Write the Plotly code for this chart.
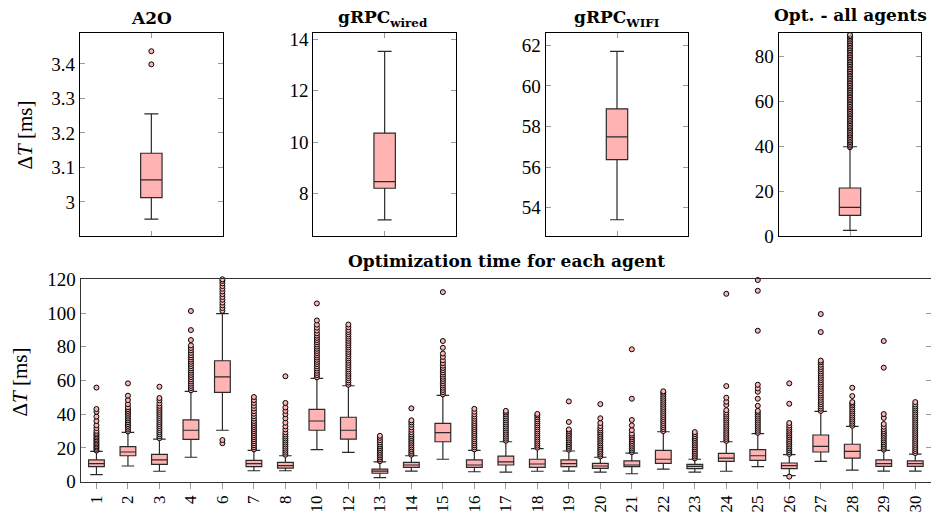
import plotly.graph_objects as go

# ---------------- data: top panels ----------------
top_titles = ["<b>A2O</b>", "<b>gRPC<sub>wired</sub></b>", "<b>gRPC<sub>WIFI</sub></b>", "<b>Opt. - all agents</b>"]
top_q1 = [3.0125, 8.21, 56.37, 9.24]
top_median = [3.064, 8.47, 57.49, 12.8]
top_q3 = [3.141, 10.35, 58.87, 21.4]
top_low = [2.95, 6.98, 53.41, 2.5]
top_high = [3.255, 13.53, 61.70, 39.8]

a2o_outliers = [3.399, 3.437]
wired_outliers = []
wifi_outliers = []
opt_outliers = [39.6, 40.3, 41.1, 41.9, 42.6, 43.4, 44.2, 45.0, 45.7, 46.5, 47.3, 48.1, 48.8, 49.6,
                50.4, 51.2, 51.9, 52.7, 53.5, 54.3, 55.0, 55.8, 56.6, 57.4, 58.1, 58.9, 59.7, 60.5,
                61.2, 62.0, 62.8, 63.6, 64.3, 65.1, 65.9, 66.7, 67.4, 68.2, 69.0, 69.8, 70.5, 71.3,
                72.1, 72.9, 73.6, 74.4, 75.2, 76.0, 76.7, 77.5, 78.3, 79.1, 79.8, 80.6, 81.4, 82.2,
                82.9, 83.7, 84.5, 85.3, 86.0, 86.8, 87.6, 88.4, 89.1, 89.7]

a2o_ticks = [3, 3.1, 3.2, 3.3, 3.4]
a2o_ticktext = ["3", "3.1", "3.2", "3.3", "3.4"]
wired_ticks = [8, 10, 12, 14]
wifi_ticks = [54, 56, 58, 60, 62]
opt_ticks = [0, 20, 40, 60, 80]

# ---------------- data: bottom panel ----------------
agents = ["1", "2", "3", "4", "6", "7", "8", "10", "12", "13", "14", "15", "16", "17", "18",
          "19", "20", "21", "22", "23", "24", "25", "26", "27", "28", "29", "30"]
ag_q1 = [8.9, 15.4, 10.3, 25.1, 53.0, 8.9, 8.1, 30.5, 25.3, 5.0, 8.5, 23.7, 8.5, 9.9, 8.5,
         8.9, 7.9, 8.9, 10.9, 7.7, 12.1, 12.7, 7.7, 17.6, 14.0, 9.1, 9.1]
ag_median = [10.7, 17.6, 12.9, 30.5, 62.2, 10.7, 9.5, 36.0, 30.5, 6.3, 9.9, 29.1, 9.9, 11.7, 10.5,
             10.7, 9.3, 9.9, 13.3, 9.1, 14.0, 15.4, 9.5, 21.0, 18.0, 10.7, 10.7]
ag_q3 = [12.9, 20.8, 16.2, 36.6, 71.7, 12.7, 11.5, 42.9, 38.2, 7.5, 11.5, 34.6, 12.9, 15.2, 13.3,
         12.9, 10.9, 12.3, 18.6, 10.3, 16.8, 19.0, 11.1, 27.7, 22.2, 12.9, 12.3]
ag_low = [4.2, 9.3, 6.2, 14.5, 30.5, 6.5, 6.5, 19.0, 17.4, 2.4, 6.3, 13.3, 5.9, 5.7, 6.2,
          6.3, 5.7, 4.7, 7.5, 5.7, 6.2, 8.9, 3.6, 12.1, 6.9, 6.3, 6.3]
ag_high = [18.0, 29.3, 25.3, 53.6, 99.6, 18.6, 15.4, 61.3, 56.9, 11.7, 15.4, 51.2, 18.6, 23.7, 19.6,
           18.2, 14.5, 17.0, 29.6, 13.3, 23.7, 28.5, 16.0, 41.7, 32.8, 18.6, 16.4]

out_1 = [18.5, 19.4, 20.3, 21.1, 22.0, 22.8, 23.7, 24.6, 25.4, 26.3, 27.2, 28.1, 29.0, 30.2, 31.8, 33.5,
         36.0, 38.6, 41.5, 43.1, 55.8]
out_2 = [29.8, 30.9, 32.0, 33.1, 34.2, 35.3, 36.4, 37.5, 38.6, 39.7, 40.8, 41.9, 43.0, 44.2, 46.0, 48.4,
         51.0, 58.3]
out_3 = [25.8, 27.0, 28.2, 29.4, 30.6, 31.8, 33.0, 34.2, 35.4, 36.6, 37.8, 39.0, 40.2, 41.4, 42.6, 43.8,
         45.0, 46.5, 48.2, 49.6, 56.3]
out_4 = [54.2, 55.5, 56.8, 58.1, 59.4, 60.7, 62.0, 63.3, 64.6, 65.9, 67.2, 68.5, 69.8, 71.1, 72.4, 73.7,
         75.0, 76.4, 77.9, 79.3, 80.8, 84.0, 89.9, 101.2]
out_6 = [22.8, 24.7, 101.3, 103.0, 104.6, 106.2, 107.9, 109.5, 111.2, 112.8, 114.4, 116.0, 117.6, 119.0, 120.0]
out_7 = [19.2, 20.4, 21.6, 22.8, 24.0, 25.2, 26.4, 27.6, 28.8, 30.0, 31.2, 32.4, 33.6, 34.8, 36.0, 37.4,
         38.8, 40.3, 41.8, 43.4, 45.0, 46.7, 48.4, 50.2]
out_8 = [16.0, 17.2, 18.4, 19.6, 20.8, 22.0, 23.2, 24.4, 25.6, 26.8, 28.0, 29.3, 31.0, 32.8, 35.0, 37.6,
         40.0, 42.0, 44.0, 46.7, 62.5]
out_10 = [61.9, 63.2, 64.5, 65.8, 67.1, 68.4, 69.7, 71.0, 72.3, 73.6, 74.9, 76.2, 77.5, 78.8, 80.1, 81.4,
          82.7, 84.0, 85.3, 86.6, 88.0, 89.6, 91.3, 93.1, 95.6, 105.7]
out_12 = [57.5, 58.8, 60.1, 61.4, 62.7, 64.0, 65.3, 66.6, 67.9, 69.2, 70.5, 71.8, 73.1, 74.4, 75.7, 77.0,
          78.3, 79.6, 80.9, 82.2, 83.5, 84.8, 86.1, 87.4, 88.7, 90.0, 91.6, 93.2]
out_13 = [12.2, 13.3, 14.4, 15.5, 16.6, 17.7, 18.8, 19.9, 21.0, 22.1, 23.3, 24.6, 26.0, 27.2]
out_14 = [16.0, 17.1, 18.2, 19.3, 20.4, 21.5, 22.6, 23.7, 24.8, 25.9, 27.0, 28.1, 29.4, 30.8, 32.3, 33.8,
          35.2, 36.4, 43.5]
out_15 = [51.8, 53.1, 54.4, 55.7, 57.0, 58.3, 59.6, 60.9, 62.2, 63.5, 64.8, 66.1, 67.4, 68.8, 70.3, 72.0,
          74.0, 76.0, 79.4, 83.4, 112.4]
out_16 = [19.2, 20.4, 21.6, 22.8, 24.0, 25.2, 26.4, 27.6, 28.8, 30.0, 31.2, 32.4, 33.6, 34.8, 36.0, 37.3,
          38.6, 40.0, 41.5, 43.2]
out_17 = [24.3, 25.5, 26.7, 27.9, 29.1, 30.3, 31.5, 32.7, 33.9, 35.1, 36.3, 37.5, 38.7, 39.9, 41.0, 42.0]
out_18 = [20.2, 21.4, 22.6, 23.8, 25.0, 26.2, 27.4, 28.6, 29.8, 31.0, 32.2, 33.4, 34.6, 35.8, 37.0, 38.2,
          39.3, 40.2]
out_19 = [19.0, 20.1, 21.2, 22.3, 23.4, 24.5, 25.6, 26.7, 27.8, 28.9, 30.0, 31.0, 35.4, 47.6]
out_20 = [15.0, 16.1, 17.2, 18.3, 19.4, 20.5, 21.6, 22.7, 23.8, 24.9, 26.0, 27.1, 28.2, 29.3, 30.4, 31.6,
          33.0, 34.8, 37.6, 46.0]
out_21 = [17.5, 18.6, 19.7, 20.8, 21.9, 23.0, 24.1, 25.2, 26.3, 27.4, 28.5, 30.6, 33.4, 36.6, 49.2, 78.5]
out_22 = [30.0, 31.2, 32.4, 33.6, 34.8, 36.0, 37.2, 38.4, 39.6, 40.8, 42.0, 43.2, 44.4, 45.6, 46.8, 48.0,
          49.2, 50.4, 51.6, 52.7, 53.6]
out_23 = [13.8, 14.9, 16.0, 17.1, 18.2, 19.3, 20.4, 21.5, 22.6, 23.7, 24.8, 25.9, 27.0, 28.2, 29.4]
out_24 = [24.2, 25.4, 26.6, 27.8, 29.0, 30.2, 31.4, 32.6, 33.8, 35.0, 36.2, 37.4, 38.6, 39.8, 41.0, 42.4,
          45.5, 47.4, 49.8, 56.7, 111.4]
out_25 = [29.0, 30.2, 31.4, 32.6, 33.8, 35.0, 36.2, 37.4, 38.6, 39.8, 41.0, 42.0, 45.0, 49.2, 53.3, 55.3,
          57.5, 89.5, 113.2, 119.6]
out_26 = [3.0, 16.5, 17.6, 18.7, 19.8, 20.9, 22.0, 23.1, 24.2, 25.3, 26.4, 27.5, 28.6, 29.7, 30.8, 32.0,
          33.3, 34.8, 46.2, 58.3]
out_27 = [42.0, 43.3, 44.6, 45.9, 47.2, 48.5, 49.8, 51.1, 52.4, 53.7, 55.0, 56.3, 57.6, 58.9, 60.2, 61.5,
          62.8, 64.1, 65.4, 66.7, 68.0, 69.4, 70.8, 71.8, 88.7, 99.4]
out_28 = [33.2, 34.4, 35.6, 36.8, 38.0, 39.2, 40.4, 41.6, 42.8, 44.0, 45.2, 46.3, 47.2, 50.8, 55.7]
out_29 = [19.0, 20.1, 21.2, 22.3, 23.4, 24.5, 25.6, 26.7, 27.8, 28.9, 30.0, 31.2, 32.6, 34.2, 37.8, 40.1,
          67.6, 83.4]
out_30 = [17.0, 18.2, 19.4, 20.6, 21.8, 23.0, 24.2, 25.4, 26.6, 27.8, 29.0, 30.2, 31.4, 32.6, 33.8, 35.0,
          36.2, 37.4, 38.6, 39.8, 41.0, 42.2, 43.4, 44.6, 45.8, 47.2]

bottom_ticks = [0, 20, 40, 60, 80, 100, 120]

# ---------------- style ----------------
FILL = "#ffb3b3"
EDGE = "#2a2a2a"
TICKC = "#9a9a9a"
SERIF = "Liberation Serif, serif"
BSERIF = "DejaVu Serif, serif"
NUMFONT = dict(family=SERIF, size=19, color="black")
TITLEFONT = dict(family=BSERIF, size=17, color="black")

fig = go.Figure()

top_outliers = [a2o_outliers, wired_outliers, wifi_outliers, opt_outliers]
for i in range(4):
    ax = "" if i == 0 else str(i + 1)
    fig.add_trace(go.Box(
        x=[0], q1=[top_q1[i]], median=[top_median[i]], q3=[top_q3[i]],
        lowerfence=[top_low[i]], upperfence=[top_high[i]],
        width=0.15, whiskerwidth=0.65, fillcolor=FILL,
        line=dict(color=EDGE, width=1.2), boxpoints=False,
        xaxis="x" + ax, yaxis="y" + ax, showlegend=False, hoverinfo="skip"))
    if top_outliers[i]:
        fig.add_trace(go.Scatter(
            x=[0] * len(top_outliers[i]), y=top_outliers[i], mode="markers",
            marker=dict(size=5, color=FILL, line=dict(color="black", width=1)),
            xaxis="x" + ax, yaxis="y" + ax, showlegend=False, cliponaxis=False, hoverinfo="skip"))

fig.add_trace(go.Box(
    x=agents, q1=ag_q1, median=ag_median, q3=ag_q3, lowerfence=ag_low, upperfence=ag_high,
    width=0.5, whiskerwidth=0.8, fillcolor=FILL, line=dict(color=EDGE, width=1.2),
    boxpoints=False, xaxis="x5", yaxis="y5", showlegend=False, hoverinfo="skip"))

all_outs = [out_1, out_2, out_3, out_4, out_6, out_7, out_8, out_10, out_12, out_13, out_14, out_15,
            out_16, out_17, out_18, out_19, out_20, out_21, out_22, out_23, out_24, out_25, out_26,
            out_27, out_28, out_29, out_30]
ox, oy = [], []
for lab, vals in zip(agents, all_outs):
    ox += [lab] * len(vals)
    oy += vals
fig.add_trace(go.Scatter(
    x=ox, y=oy, mode="markers",
    marker=dict(size=5, color=FILL, line=dict(color="black", width=1)),
    xaxis="x5", yaxis="y5", showlegend=False, cliponaxis=False, hoverinfo="skip"))

W, H = 931, 524
def px(a, b):
    return [a / W, b / W]
def py(top, bottom):
    return [(H - bottom) / H, (H - top) / H]

top_x = [px(80, 222.7), px(313.3, 456), px(545.7, 688.3), px(778.7, 921.3)]
top_y = py(33.3, 236)
top_ranges = [[2.901, 3.489], [6.356, 14.23], [52.61, 62.59], [0, 90.4]]
top_tickvals = [a2o_ticks, wired_ticks, wifi_ticks, opt_ticks]
top_ticktext = [a2o_ticktext, [str(v) for v in wired_ticks], [str(v) for v in wifi_ticks],
                [str(v) for v in opt_ticks]]

layout = dict(width=W, height=H, margin=dict(l=0, r=0, t=0, b=0, autoexpand=False),
              paper_bgcolor="white", plot_bgcolor="white", showlegend=False)

for i in range(4):
    ax = "" if i == 0 else str(i + 1)
    layout["xaxis" + ax] = dict(
        domain=top_x[i], anchor="y" + ax, range=[-0.5, 0.5], tickvals=[0], showticklabels=False,
        ticks="inside", ticklen=5, tickcolor=TICKC, tickwidth=1, automargin=False,
        showline=True, linecolor="black", linewidth=1.2, mirror="ticks",
        showgrid=False, zeroline=False, fixedrange=True)
    layout["yaxis" + ax] = dict(
        domain=top_y, anchor="x" + ax, range=top_ranges[i], tickvals=top_tickvals[i],
        ticktext=top_ticktext[i], tickfont=NUMFONT, automargin=False,
        ticks="inside", ticklen=5, tickcolor=TICKC, tickwidth=1,
        showline=True, linecolor="black", linewidth=1.2, mirror="ticks",
        showgrid=False, zeroline=False, fixedrange=True)

layout["xaxis5"] = dict(
    domain=px(80.7, 931), anchor="y5", type="category", categoryorder="array", categoryarray=agents,
    range=[-0.5, 26.5], tickangle=-90, tickfont=dict(family=SERIF, size=17, color="black"),
    ticks="outside", ticklen=6, tickcolor=TICKC, tickwidth=1, automargin=False,
    showline=True, linecolor="#333333", linewidth=1.2, mirror=True,
    showgrid=False, zeroline=False, fixedrange=True)
layout["yaxis5"] = dict(
    domain=py(279.3, 481.7), anchor="x5", range=[0, 120], tickvals=bottom_ticks, tickfont=NUMFONT,
    ticks="inside", ticklen=5, tickcolor=TICKC, tickwidth=1, automargin=False,
    showline=True, linecolor="#333333", linewidth=1.2, mirror="ticks",
    showgrid=False, zeroline=False, fixedrange=True)

annotations = []
title_pos = [(151.4, 18), (383, 18), (617, 18), (850, 15)]
for i in range(4):
    annotations.append(dict(text=top_titles[i], x=title_pos[i][0] / W, y=1 - title_pos[i][1] / H,
                            xref="paper", yref="paper", xanchor="center", yanchor="middle",
                            showarrow=False, font=TITLEFONT))
annotations.append(dict(text="<b>Optimization time for each agent</b>", x=506 / W, y=1 - 261 / H,
                        xref="paper", yref="paper", xanchor="center", yanchor="middle",
                        showarrow=False, font=TITLEFONT))
ylab_font = dict(family=SERIF, size=21, color="black")
annotations.append(dict(text="Δ<i>T</i> [ms]", x=24.5 / W, y=1 - 135 / H, xref="paper", yref="paper",
                        xanchor="center", yanchor="middle", textangle=-90, showarrow=False, font=ylab_font))
annotations.append(dict(text="Δ<i>T</i> [ms]", x=19.5 / W, y=1 - 382 / H, xref="paper", yref="paper",
                        xanchor="center", yanchor="middle", textangle=-90, showarrow=False, font=ylab_font))
layout["annotations"] = annotations

fig.update_layout(**layout)
fig.write_html("out.html", config={"displayModeBar": False},
               post_script="document.body.style.margin='0';document.body.style.overflow='hidden';")
